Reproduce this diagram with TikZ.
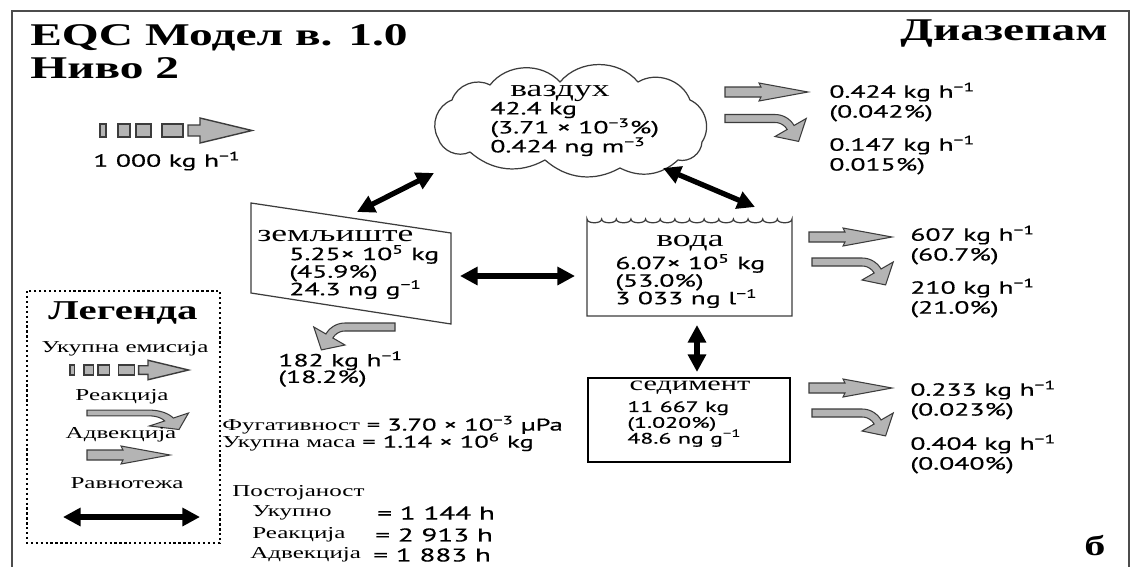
\documentclass[tikz,border=0pt]{standalone}
\usepackage{fontspec}
\usetikzlibrary{arrows.meta}
\setmainfont{Liberation Serif}[FakeStretch=1.5]
\newfontfamily\sansf{PT Sans}[FakeStretch=1.58, FakeBold=0.5]

\definecolor{arrowgray}{HTML}{B4B4B4}
\definecolor{edgegray}{HTML}{3C3C3C}

\tikzset{
  grayarrow/.style={fill=arrowgray, draw=edgegray, line width=0.6pt, line join=miter},
  compedge/.style={draw=edgegray, line width=0.7pt},
  eqarrow/.style={line width=3pt, {Triangle[length=10pt,width=10pt]}-{Triangle[length=10pt,width=10pt]}},
  lbl/.style={font=\fontsize{13.5}{14}\selectfont, inner sep=0},
  val/.style={font=\sansf\fontsize{10}{10}\selectfont, align=left, inner sep=0, anchor=west},
  flux/.style={font=\sansf\fontsize{10}{11.3}\selectfont, align=left, inner sep=0, anchor=west},
  leg/.style={font=\fontsize{9.5}{10}\selectfont, inner sep=0},
  % bent arrow for degradation by reaction (local units: px, y down)
  reaction/.pic={
    \path[grayarrow] (0,-4) -- (50,-4)
      -- plot[domain=-90:-30, samples=12] ({50+22*cos(\x)},{18+22*sin(\x)})
      -- (81.2,0) -- (73.6,22.9) -- (50,18)
      -- plot[domain=-30:-90, samples=12] ({50+14*cos(\x)},{18+14*sin(\x)})
      -- (0,4) -- cycle;
  },
  % straight arrow for advection
  advection/.pic={
    \path[grayarrow] (0,-5) -- (36,-5) -- (34,-9) -- (83,0) -- (34,9) -- (36,5) -- (0,5) -- cycle;
  },
  % emission symbol: bars and a broad arrow
  emission/.pic={
    \path[grayarrow, line width=0.8pt] (0,-6.5) rectangle (6,6.5);
    \path[grayarrow, line width=0.8pt] (18,-6.5) rectangle (30,6.5);
    \path[grayarrow, line width=0.8pt] (36,-6.5) rectangle (51,6.5);
    \path[grayarrow, line width=0.8pt] (62,-6.5) rectangle (83,6.5);
    \path[grayarrow, line width=0.8pt] (88,-5.5) -- (100,-5.5) -- (100,-12.5) -- (152,0)
      -- (100,12.5) -- (100,5.5) -- (88,5.5) -- cycle;
  }
}

\begin{document}
\lineskiplimit=-20pt
\begin{tikzpicture}[x=0.02cm,y=-0.02cm]
\useasboundingbox (0,0) rectangle (1134,566);
\fill[white] (0,0) rectangle (1134,566);
\draw[gray!60!black, line width=1.1pt] (12,11) rectangle (1129,580);

% headings
\node[anchor=base west, font=\bfseries\fontsize{18}{20}\selectfont, inner sep=0] (title) at (30,45) {EQC Модел в. 1.0};
\node[anchor=base west, font=\bfseries\fontsize{18}{20}\selectfont, inner sep=0] (level) at (30,78) {Ниво 2};
\node[anchor=base east, font=\bfseries\fontsize{18}{20}\selectfont, inner sep=0] (chem) at (1108,40) {Диазепам};

% emission
\pic at (100,130.5) {emission};
\node[flux] (emis) at (93,161) {1 000 kg h\textsuperscript{−1}};

% air: cloud outline made of puffs
\draw[compedge, line join=round]
  (438,138) to[bend left=50] (452,100) to[bend left=50] (490,85)
  to[bend left=50] (560,82) to[bend left=50] (638,82)
  to[bend left=50] (690,100) to[bend left=50] (702,142)
  to[bend left=50] (678,160) to[bend left=35] (620,168)
  to[bend left=35] (545,160) to[bend left=35] (470,152)
  to[bend left=50] cycle;
\node[lbl] (airname) at (560,93) {ваздух};
\node[val, font=\sansf\fontsize{10}{10.8}\selectfont] (airval) at (490,129) {42.4 kg\\(3.71 × 10\textsuperscript{−3}\%)\\0.424 ng m\textsuperscript{−3}};
\pic at (725,92) {advection};
\pic at (725,118.5) {reaction};
\node[flux] (airadv) at (829,102) {0.424 kg h\textsuperscript{−1}\\(0.042\%)};
\node[flux] (airrea) at (829,155) {0.147 kg h\textsuperscript{−1}\\0.015\%)};

% soil
\draw[compedge] (251,203) -- (451,233) -- (451,324) -- (251,293) -- cycle;
\node[lbl, anchor=west] (soilname) at (257,236) {земљиште};
\node[val] (soilval) at (289,272) {5.25× 10\textsuperscript{5} kg\\(45.9\%)\\24.3 ng g\textsuperscript{−1}};
\pic[xscale=-1] at (395,327) {reaction};
\node[flux, font=\sansf\fontsize{10}{9.4}\selectfont] (soilrea) at (278,369) {182 kg h\textsuperscript{−1}\\(18.2\%)};

% water
\draw[compedge] (587,316) -- (587,219)
  \foreach \i in {1,...,14}{ .. controls +(0,5) and +(0,5) .. ++(14.643,0)}
  -- (792,316) -- cycle;
\node[lbl] (watername) at (690,243) {вода};
\node[val] (waterval) at (615,281) {6.07× 10\textsuperscript{5} kg\\(53.0\%)\\3 033 ng l\textsuperscript{−1}};
\pic at (809,237) {advection};
\pic at (812,262) {reaction};
\node[flux] (wateradv) at (910,245) {607 kg h\textsuperscript{−1}\\(60.7\%)};
\node[flux] (waterrea) at (910,298) {210 kg h\textsuperscript{−1}\\(21.0\%)};

% sediment
\node[draw=black, line width=1.2pt, minimum width=114.5pt, minimum height=47.6pt, inner sep=0] (sed) at (689,420) {};
\node[font=\fontsize{11.5}{12}\selectfont, inner sep=0] (sedname) at (690,388) {седимент};
\node[val, font=\sansf\fontsize{8.6}{9}\selectfont] (sedval) at (627,424) {11 667 kg\\(1.020\%)\\48.6 ng g\textsuperscript{−1}};
\pic at (809,388) {advection};
\pic at (812,413) {reaction};
\node[flux] (sedadv) at (910,400) {0.233 kg h\textsuperscript{−1}\\(0.023\%)};
\node[flux] (sedrea) at (910,454) {0.404 kg h\textsuperscript{−1}\\(0.040\%)};

% equilibrium exchange between compartments
\coordinate (airS) at (434,173);
\coordinate (soilA) at (357,212);
\coordinate (airW) at (663,168);
\coordinate (waterA) at (755,207);
\coordinate (soilW) at (460,276);
\coordinate (waterS) at (575,276);
\coordinate (waterD) at (697,325);
\coordinate (sedW) at (697,372);
\draw[eqarrow] (airS) -- (soilA);
\draw[eqarrow] (airW) -- (waterA);
\draw[eqarrow] (soilW) -- (waterS);
\draw[eqarrow] (waterD) -- (sedW);

% legend
\draw[line width=1.3pt, dash pattern=on 1.3pt off 1.5pt] (27,291) rectangle (220,543);
\node[font=\bfseries\fontsize{15.5}{16}\selectfont, inner sep=0] (legtitle) at (123,313) {Легенда};
\node[leg] (legem) at (125,349) {Укупна емисија};
\pic[scale=0.78] at (70,370) {emission};
\node[leg] (legre) at (122,397) {Реакција};
\pic[xscale=1.25, yscale=0.72] at (87,413) {reaction};
\node[leg] (legad) at (121,435) {Адвекција};
\pic at (87,455) {advection};
\node[leg] (legeq) at (127,483) {Равнотежа};
\coordinate (legL) at (63,517);
\coordinate (legR) at (200,517);
\draw[eqarrow] (legL) -- (legR);

% totals
\node[anchor=west, inner sep=0] (fug) at (222,425) {{\fontsize{9.5}{10}\selectfont Фугативност} {\sansf\fontsize{9.6}{10}\selectfont = 3.70 × 10\textsuperscript{−3} µPa}};
\node[anchor=west, inner sep=0] (mass) at (222,442) {{\fontsize{9.5}{10}\selectfont Укупна маса} {\sansf\fontsize{9.6}{10}\selectfont = 1.14 × 10\textsuperscript{6} kg}};
\node[leg, anchor=west] (pers) at (232,493) {Постојаност};
\node[leg, anchor=west] (ptot) at (252,513) {Укупно};
\node[leg, anchor=west] (prea) at (252,535) {Реакција};
\node[leg, anchor=west] (padv) at (250,555) {Адвекција};
\node[flux, font=\sansf\fontsize{10.5}{11}\selectfont] (ptotv) at (377,513) {= 1 144 h};
\node[flux, font=\sansf\fontsize{10.5}{11}\selectfont] (preav) at (375,535) {= 2 913 h};
\node[flux, font=\sansf\fontsize{10.5}{11}\selectfont] (padvv) at (373,555) {= 1 883 h};

\node[anchor=base, font=\bfseries\fontsize{16}{16}\selectfont, inner sep=0] (panel) at (1095,555) {б};
\end{tikzpicture}
\end{document}
